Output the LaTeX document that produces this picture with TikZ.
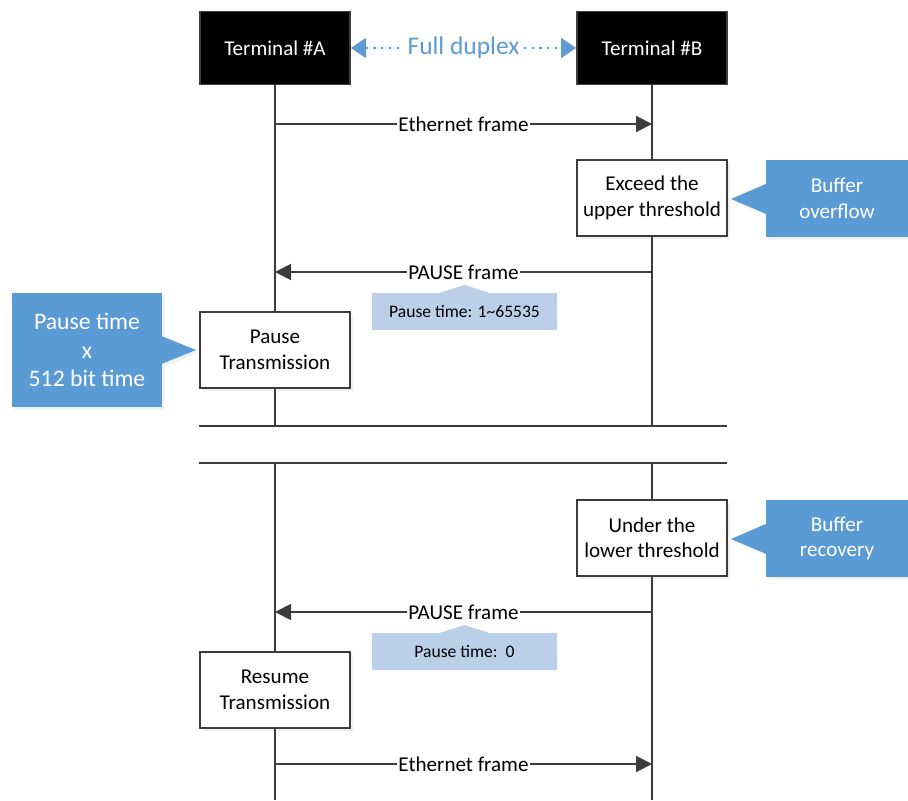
\documentclass[tikz,border=0pt]{standalone}
\usepackage{fontspec}
\setmainfont{Carlito}
\usepackage{xcolor}
\usetikzlibrary{positioning,arrows.meta,shapes.callouts,shadows,backgrounds,calc}
\definecolor{calloutblue}{RGB}{91,155,213}
\definecolor{noteblue}{RGB}{188,207,232}
\definecolor{lifegray}{RGB}{60,60,60}
\tikzstyle{seq}=[
  x=0.02cm,y=-0.02cm,font=\fontsize{12}{14.5}\selectfont
]
\tikzstyle{life}=[
  draw=lifegray,line width=1.1pt
]

\begin{document}
\begin{tikzpicture}[seq,
    termbox/.style={draw=lifegray, fill=black, text=white, line width=1.1pt, minimum width=3cm, minimum height=1.46cm},
    stepbox/.style={draw=lifegray, fill=white, line width=1.1pt, minimum width=3cm, minimum height=1.52cm, align=center,
      drop shadow={opacity=0.12, shadow xshift=1.5pt, shadow yshift=-1.5pt}},
    bluenote/.style={rectangle callout, fill=calloutblue, text=white, align=center,
      drop shadow={opacity=0.12, shadow xshift=1.5pt, shadow yshift=-1.5pt}},
    palenote/.style={rectangle callout, fill=noteblue, minimum width=3.7cm, minimum height=0.74cm,
      callout pointer width=1cm, font=\fontsize{10}{12}\selectfont},
    msg/.style={life, -{Triangle[length=0.32cm,width=0.32cm]}},
    msglabel/.style={fill=white, inner sep=1pt},
    duplex/.style={draw=calloutblue, line width=1pt, dash pattern=on 1.2pt off 3.3pt,
      {Triangle[length=0.3cm,width=0.4cm]}-{Triangle[length=0.3cm,width=0.4cm]}},
    ]
    \useasboundingbox (0,0) rectangle (908,800);

    %Nodes
    \node[termbox] (termA) at (275,48) {Terminal \#A};
    \node[termbox] (termB) at (652,48) {Terminal \#B};
    \node[stepbox] (exceed) at (652,198) {Exceed the\\upper threshold};
    \node[stepbox] (pause)  at (275,350) {Pause\\Transmission};
    \node[stepbox] (under)  at (652,538) {Under the\\lower threshold};
    \node[stepbox] (resume) at (275,690) {Resume\\Transmission};

    %Callouts
    \node[bluenote, minimum width=2.84cm, minimum height=1.54cm, callout pointer width=0.6cm,
      callout absolute pointer={(731,199)}] (overflow) at (837,198.5) {Buffer\\overflow};
    \node[bluenote, minimum width=2.84cm, minimum height=1.54cm, callout pointer width=0.6cm,
      callout absolute pointer={(731,539)}] (recovery) at (837,538.5) {Buffer\\recovery};
    \node[bluenote, minimum width=3cm, minimum height=2.28cm, callout pointer width=0.55cm,
      font=\fontsize{13.5}{16.4}\selectfont,
      callout absolute pointer={(196,350)}] (pausetime) at (87,350) {Pause time\\x\\512 bit time};
    \node[palenote, callout absolute pointer={(464.5,285)}] (range) at (464.5,311.5) {Pause time: 1\textasciitilde65535};
    \node[palenote, callout absolute pointer={(464.5,625)}] (zero) at (464.5,651.5) {Pause time:\ \ 0};

    %Lifelines
    \coordinate (endA) at (275,800);
    \coordinate (endB) at (652,800);
    \begin{scope}[on background layer]
      \draw[life] (termA) -- (endA);
      \draw[life] (termB) -- (endB);
    \end{scope}

    %Time break
    \fill[white] (199,426) rectangle (727,463);
    \draw[life] (199,426) -- (727,426) (199,463) -- (727,463);

    %Lines
    \draw[duplex] (termA) -- node[fill=white, text=calloutblue, inner sep=2pt,
      font=\fontsize{14.5}{17}\selectfont] {Full duplex} (termB);

    \coordinate (a1) at (275,124); \coordinate (b1) at (652,124);
    \coordinate (a2) at (275,272); \coordinate (b2) at (652,272);
    \coordinate (a3) at (275,612); \coordinate (b3) at (652,612);
    \coordinate (a4) at (275,764); \coordinate (b4) at (652,764);
    \draw[msg] (a1) -- node[msglabel] {Ethernet frame} (b1);
    \draw[msg] (b2) -- node[msglabel] {PAUSE frame} (a2);
    \draw[msg] (b3) -- node[msglabel] {PAUSE frame} (a3);
    \draw[msg] (a4) -- node[msglabel] {Ethernet frame} (b4);
\end{tikzpicture}
\end{document}
